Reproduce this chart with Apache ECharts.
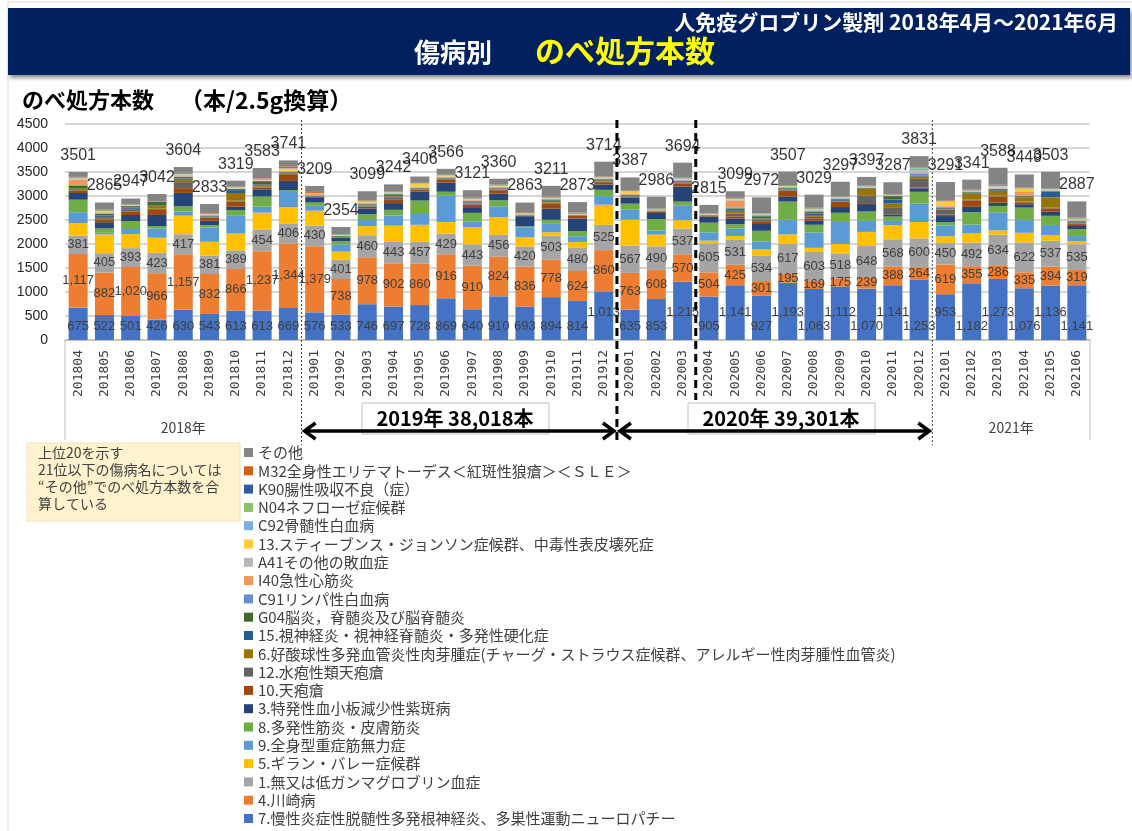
<!DOCTYPE html>
<html>
<head>
<meta charset="utf-8">
<script src="https://cdn.jsdelivr.net/npm/echarts@6/dist/echarts.min.js"></script>
<style>
  html, body { margin: 0; padding: 0; background: #fff; }
  #chart { width: 1132px; height: 831px; }
</style>
</head>
<body>
<div id="chart"></div>
<script>
// months on the category axis
const months = [
  '201804','201805','201806','201807','201808','201809','201810','201811','201812',
  '201901','201902','201903','201904','201905','201906','201907','201908','201909','201910','201911','201912',
  '202001','202002','202003','202004','202005','202006','202007','202008','202009','202010','202011','202012',
  '202101','202102','202103','202104','202105','202106'
];
// bar totals (labels above the bars)
const totals = [3501,2865,2947,3042,3604,2833,3319,3583,3741, 3209,2354,3099,3242,3406,3566,3121,3360,2863,3211,2873,3714, 3387,2986,3694,2815,3099,2972,3507,3029,3297,3397,3287,3831, 3291,3341,3588,3449,3503,2887];

// series, bottom of the stack first
const cidp = [675,522,501,426,630,543,613,613,669, 576,533,746,697,728,869,640,910,693,894,814,1013, 635,853,1215,905,1141,927,1193,1063,1112,1070,1141,1253, 953,1182,1273,1076,1136,1141];
const kawasaki = [1117,882,1020,966,1157,832,866,1237,1344, 1379,738,978,902,860,916,910,824,836,778,624,860, 763,608,570,504,425,301,195,169,175,239,388,264, 619,355,286,335,394,319];
const hypogamma = [381,405,393,423,417,381,389,454,406, 430,401,460,443,457,429,443,456,420,503,480,525, 567,490,537,605,531,534,617,603,518,648,568,600, 450,492,634,622,537,535];
const gbs = [260,390,293,315,385,290,350,350,350, 310,170,190,340,355,245,360,370,190,70,125,420, 540,245,175,55,70,125,194,85,195,295,295,340, 140,200,90,200,120,65];
const mg = [230,35,105,190,85,300,370,125,335, 100,145,125,210,225,545,120,225,210,175,120,180, 210,85,300,175,155,168,305,320,460,230,90,385, 225,175,370,265,210,105];
const pm = [260,90,167,55,110,50,120,210,20, 70,70,120,120,280,85,175,125,20,85,105,130, 125,240,85,200,90,220,380,160,190,195,90,245, 70,260,140,260,190,140];
const itp = [140,130,125,230,280,90,70,140,190, 110,70,120,140,190,190,120,140,210,230,265,110, 125,125,315,120,120,160,105,85,120,155,35,75, 125,110,70,70,85,70];
const pemphigus = [50,55,70,120,100,55,105,50,140, 10,10,40,70,30,55,55,70,10,105,50,50, 20,20,55,15,40,40,125,50,105,20,15,15, 30,135,125,40,70,40];
const bp = [30,30,35,10,125,15,20,20,20, 5,5,20,40,10,15,20,15,5,20,5,10, 10,10,15,10,60,30,15,30,10,160,130,180, 105,15,20,15,15,15];
const egpa = [20,25,25,55,50,15,160,15,10, 5,5,15,30,10,10,20,15,5,40,5,10, 10,10,15,5,60,30,15,40,15,135,90,50, 15,125,100,90,215,15];
const nmo = [25,30,25,10,25,10,60,25,10, 5,5,10,25,10,10,15,10,5,15,5,10, 10,5,15,5,35,40,15,30,30,10,85,15, 15,15,15,15,120,15];
const g04 = [30,35,30,80,30,10,20,70,10, 5,15,10,20,10,10,15,10,5,10,5,30, 10,5,20,5,15,15,10,30,10,10,70,10, 10,15,20,15,10,15];
const c91 = [10,10,5,0,10,5,10,5,5, 5,5,10,5,10,10,10,10,5,10,5,10, 10,5,10,5,20,10,10,20,5,5,5,40, 15,5,10,5,5,10];
const i40 = [110,20,5,0,10,10,5,5,5, 30,5,10,10,5,10,10,10,5,5,5,5, 10,5,10,5,140,5,5,10,5,5,5,5, 15,10,10,85,10,10];
const a41 = [15,15,5,5,20,10,10,10,10, 5,5,10,10,10,10,10,10,5,10,5,10, 10,5,10,5,20,10,5,20,10,10,5,40, 20,10,15,10,10,10];
const sjs = [10,5,5,0,10,5,5,10,45, 5,5,10,10,60,10,10,10,10,10,5,10, 35,5,10,5,10,5,5,5,5,5,5,10, 70,5,15,50,5,10];
const c92 = [10,10,5,0,10,5,10,5,5, 5,5,10,10,10,10,10,10,5,5,5,10, 10,5,10,5,10,10,5,10,10,10,5,45, 10,5,10,5,10,10];
const n04 = [10,10,5,0,10,5,5,5,5, 5,5,10,5,10,10,5,5,5,5,5,5, 10,5,5,5,5,5,10,10,10,5,5,10, 10,5,10,5,5,10];
const k90 = [5,5,5,0,10,5,5,5,5, 5,5,5,5,10,10,5,5,5,5,5,5, 5,5,10,5,5,5,5,5,5,5,5,5, 10,5,10,5,5,5];
const m32 = [10,10,5,0,10,10,10,10,30, 20,5,10,10,10,10,10,10,15,15,15,10, 10,5,10,5,10,5,10,10,5,5,5,10, 10,10,10,10,10,10];
const others = [103,151,118,157,120,187,116,219,127, 124,147,190,140,116,107,158,120,199,221,220,301, 262,250,302,171,137,327,283,274,302,180,250,234, 374,207,355,271,341,337];

const stackDefs = [
  { name: '7.慢性炎症性脱髄性多発根神経炎、多巣性運動ニューロパチー', data: cidp, color: '#4472C4', label: 'base' },
  { name: '4.川崎病', data: kawasaki, color: '#ED7D31', label: 'inside' },
  { name: '1.無又は低ガンマグロブリン血症', data: hypogamma, color: '#A5A5A5', label: 'inside' },
  { name: '5.ギラン・バレー症候群', data: gbs, color: '#FFC000' },
  { name: '9.全身型重症筋無力症', data: mg, color: '#5B9BD5' },
  { name: '8.多発性筋炎・皮膚筋炎', data: pm, color: '#70AD47' },
  { name: '3.特発性血小板減少性紫斑病', data: itp, color: '#264478' },
  { name: '10.天疱瘡', data: pemphigus, color: '#9E480E' },
  { name: '12.水疱性類天疱瘡', data: bp, color: '#636363' },
  { name: '6.好酸球性多発血管炎性肉芽腫症(チャーグ・ストラウス症候群、アレルギー性肉芽腫性血管炎)', data: egpa, color: '#997300' },
  { name: '15.視神経炎・視神経脊髄炎・多発性硬化症', data: nmo, color: '#255E91' },
  { name: 'G04脳炎，脊髄炎及び脳脊髄炎', data: g04, color: '#43682B' },
  { name: 'C91リンパ性白血病', data: c91, color: '#698ED0' },
  { name: 'I40急性心筋炎', data: i40, color: '#F1975A' },
  { name: 'A41その他の敗血症', data: a41, color: '#B7B7B7' },
  { name: '13.スティーブンス・ジョンソン症候群、中毒性表皮壊死症', data: sjs, color: '#FFCD33' },
  { name: 'C92骨髄性白血病', data: c92, color: '#7CAFDD' },
  { name: 'N04ネフローゼ症候群', data: n04, color: '#8CC168' },
  { name: 'K90腸性吸収不良（症）', data: k90, color: '#335AA1' },
  { name: 'M32全身性エリテマトーデス＜紅斑性狼瘡＞＜ＳＬＥ＞', data: m32, color: '#D26012' },
  { name: 'その他', data: others, color: '#848484' }
];

const JP = "'Noto Sans CJK JP', sans-serif";
const NUM = "'Liberation Sans', Arial, sans-serif";
const GRID_L = 65, GRID_R = 1090, GRID_T = 124, GRID_B = 340;
const catW = (GRID_R - GRID_L) / months.length;
const edge = n => GRID_L + n * catW;

// raise every other wide blue label so neighbours do not collide
let prevBlue = null;
function blueLayout(p) {
  if (p.dataIndex === 0) prevBlue = null;
  const r = p.labelRect;
  let dy = 0;
  if (prevBlue && prevBlue.dy === 0 && r.x < prevBlue.x + prevBlue.width) dy = -14;
  prevBlue = { x: r.x, width: r.width, dy: dy };
  return { dy: dy };
}

const labelBase = {
  show: true,
  color: '#404040',
  fontSize: 13,
  fontFamily: NUM,
  formatter: p => p.value.toLocaleString('en-US')
};

const series = stackDefs.map(d => {
  const s = {
    name: d.name,
    type: 'bar',
    stack: 'total',
    barWidth: 19,
    data: d.data,
    itemStyle: { color: d.color },
    label: { show: false }
  };
  if (d.label === 'base') {
    s.label = Object.assign({}, labelBase, { position: 'insideBottom', distance: 7 });
    s.labelLayout = blueLayout;
  } else if (d.label === 'inside') {
    s.label = Object.assign({}, labelBase, { position: 'inside' });
  }
  return s;
});

series.push({
  name: 'total',
  type: 'scatter',
  data: totals,
  symbolSize: 1,
  silent: true,
  z: 10,
  itemStyle: { color: 'rgba(0,0,0,0)' },
  label: {
    show: true,
    position: 'top',
    distance: 8,
    color: '#000',
    fontSize: 16,
    fontFamily: NUM
  }
});

const i2019 = months.indexOf('201901');
const i2020 = months.indexOf('202001');
const i2004 = months.indexOf('202004');
const i2021 = months.indexOf('202101');

const dotted = { stroke: '#404040', lineWidth: 1, lineDash: [2, 2] };
const dashed = { stroke: '#000', lineWidth: 3, lineDash: [8, 5] };
const arrow = { stroke: '#000', lineWidth: 3.5, fill: null, lineJoin: 'miter' };

const graphics = [
  { type: 'rect', z: 0, shape: { x: 8, y: 2, width: 1130, height: 840 }, style: { fill: 'none', stroke: '#d9d9d9', lineWidth: 1 } },
  { type: 'rect', z: 1, shape: { x: 8, y: 8, width: 1122, height: 67 },
    style: { fill: '#002060', shadowBlur: 4, shadowOffsetX: 2, shadowOffsetY: 3, shadowColor: 'rgba(0,0,0,0.45)' } },
  { type: 'text', z: 2, x: 1118, y: 22, style: { text: '人免疫グロブリン製剤 2018年4月～2021年6月', fill: '#fff', font: 'bold 21px ' + JP, textAlign: 'right', textVerticalAlign: 'middle' } },
  { type: 'text', z: 2, x: 414, y: 52, style: { text: '傷病別', fill: '#fff', font: 'bold 26px ' + JP, textAlign: 'left', textVerticalAlign: 'middle' } },
  { type: 'text', z: 2, x: 535, y: 51, style: { text: 'のべ処方本数', fill: '#FFFF00', font: 'bold 30px ' + JP, textAlign: 'left', textVerticalAlign: 'middle' } },
  { type: 'text', z: 2, x: 22, y: 100, style: { text: 'のべ処方本数', fill: '#000', font: 'bold 22px ' + JP, textAlign: 'left', textVerticalAlign: 'middle' } },
  { type: 'text', z: 2, x: 180, y: 100, style: { text: '（本/2.5g換算）', fill: '#000', font: 'bold 23px ' + JP, textAlign: 'left', textVerticalAlign: 'middle' } },

  // group borders under the category axis
  { type: 'line', z: 5, shape: { x1: GRID_L, y1: GRID_B, x2: GRID_L, y2: 440 }, style: { stroke: '#bfbfbf', lineWidth: 1 } },
  { type: 'line', z: 5, shape: { x1: GRID_R, y1: GRID_B, x2: GRID_R, y2: 440 }, style: { stroke: '#bfbfbf', lineWidth: 1 } },
  { type: 'line', z: 50, shape: { x1: edge(i2019), y1: 120, x2: edge(i2019), y2: 445 }, style: dotted },
  { type: 'line', z: 50, shape: { x1: edge(i2021), y1: 120, x2: edge(i2021), y2: 445 }, style: dotted },
  { type: 'line', z: 50, shape: { x1: edge(i2020), y1: 120, x2: edge(i2020), y2: 445 }, style: dashed },
  { type: 'line', z: 50, shape: { x1: edge(i2004), y1: 120, x2: edge(i2004), y2: 400 }, style: dashed },

  { type: 'text', z: 5, x: (edge(0) + edge(i2019)) / 2, y: 428, style: { text: '2018年', fill: '#404040', font: '14px ' + JP, textAlign: 'center', textVerticalAlign: 'middle' } },
  { type: 'text', z: 5, x: (edge(i2021) + edge(months.length)) / 2, y: 428, style: { text: '2021年', fill: '#404040', font: '14px ' + JP, textAlign: 'center', textVerticalAlign: 'middle' } },

  // year summary boxes
  { type: 'rect', z: 51, shape: { x: 362, y: 403, width: 187, height: 31 }, style: { fill: '#fff', stroke: '#bfbfbf', lineWidth: 1 } },
  { type: 'text', z: 52, x: 455, y: 418, style: { text: '2019年 38,018本', fill: '#000', font: 'bold 20px ' + JP, textAlign: 'center', textVerticalAlign: 'middle' } },
  { type: 'rect', z: 51, shape: { x: 688, y: 403, width: 187, height: 31 }, style: { fill: '#fff', stroke: '#bfbfbf', lineWidth: 1 } },
  { type: 'text', z: 52, x: 781, y: 418, style: { text: '2020年 39,301本', fill: '#000', font: 'bold 20px ' + JP, textAlign: 'center', textVerticalAlign: 'middle' } },

  // arrows
  { type: 'polyline', z: 53, shape: { points: [[edge(i2019) + 3, 431], [edge(i2020) - 3, 431]] }, style: arrow },
  { type: 'polyline', z: 53, shape: { points: [[edge(i2019) + 14, 423], [edge(i2019) + 3, 431], [edge(i2019) + 14, 439]] }, style: arrow },
  { type: 'polyline', z: 53, shape: { points: [[edge(i2020) - 14, 423], [edge(i2020) - 3, 431], [edge(i2020) - 14, 439]] }, style: arrow },
  { type: 'polyline', z: 53, shape: { points: [[edge(i2020) + 3, 431], [edge(i2021) - 3, 431]] }, style: arrow },
  { type: 'polyline', z: 53, shape: { points: [[edge(i2020) + 14, 423], [edge(i2020) + 3, 431], [edge(i2020) + 14, 439]] }, style: arrow },
  { type: 'polyline', z: 53, shape: { points: [[edge(i2021) - 14, 423], [edge(i2021) - 3, 431], [edge(i2021) - 14, 439]] }, style: arrow },

  // note
  { type: 'rect', z: 5, shape: { x: 27, y: 443, width: 213, height: 78 }, style: { fill: '#FFF2CC', stroke: '#f2e2b8', lineWidth: 1 } },
  { type: 'text', z: 6, x: 38, y: 444, style: {
      text: '上位20を示す\n21位以下の傷病名については\n“その他”でのべ処方本数を合\n算している',
      fill: '#404040', font: '14px ' + JP, lineHeight: 17, textAlign: 'left', textVerticalAlign: 'top' } }
];

const chart = echarts.init(document.getElementById('chart'));
chart.setOption({
  animation: false,
  backgroundColor: '#fff',
  textStyle: { fontFamily: JP },
  grid: { left: GRID_L, right: 1132 - GRID_R, top: GRID_T, bottom: 831 - GRID_B, containLabel: false },
  legend: {
    orient: 'vertical',
    left: 244,
    top: 445,
    height: 400,
    padding: 0,
    icon: 'rect',
    itemWidth: 9,
    itemHeight: 9,
    itemGap: 3.3,
    selectedMode: false,
    data: stackDefs.map(d => d.name).reverse(),
    textStyle: { fontSize: 15, lineHeight: 15, color: '#404040', fontFamily: JP }
  },
  xAxis: {
    type: 'category',
    data: months,
    axisTick: { show: false },
    axisLine: { lineStyle: { color: '#bfbfbf', width: 1.5 } },
    axisLabel: { interval: 0, rotate: 90, margin: 10, fontSize: 13, color: '#404040', fontFamily: "'DejaVu Sans Mono', monospace" }
  },
  yAxis: {
    type: 'value',
    min: 0,
    max: 4500,
    interval: 500,
    axisLine: { show: false },
    axisTick: { show: false },
    axisLabel: { fontSize: 14, color: '#262626', margin: 17, fontFamily: NUM, formatter: v => String(v) },
    splitLine: { lineStyle: { color: '#c8c8c8', width: 1.5 } }
  },
  series: series,
  graphic: { elements: graphics }
});
</script>
</body>
</html>
